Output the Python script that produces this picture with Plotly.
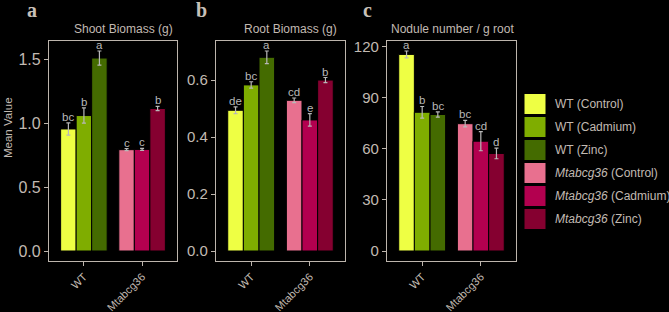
import plotly.graph_objects as go

W, H = 669, 312

groups = ["WT", "Mtabcg36"]
treatments = ["Control", "Cadmium", "Zinc"]
wt_colors = ["#EEFF44", "#7FAD00", "#446B00"]
mt_colors = ["#E8708F", "#B3004F", "#850030"]

# Panel a: Shoot Biomass (g)
shoot_wt = [0.955, 1.06, 1.51]
shoot_wt_err = [0.048, 0.06, 0.055]
shoot_mt = [0.793, 0.795, 1.115]
shoot_mt_err = [0.008, 0.008, 0.017]
shoot_wt_lbl = ["bc", "b", "a"]
shoot_mt_lbl = ["c", "c", "b"]

# Panel b: Root Biomass (g)
root_wt = [0.494, 0.583, 0.68]
root_wt_err = [0.012, 0.011, 0.022]
root_mt = [0.529, 0.46, 0.60]
root_mt_err = [0.008, 0.022, 0.009]
root_wt_lbl = ["de", "bc", "a"]
root_mt_lbl = ["cd", "e", "b"]

# Panel c: Nodule number / g root
nod_wt = [115.5, 81.5, 80.2]
nod_wt_err = [2.0, 3.4, 1.5]
nod_mt = [74.8, 64.5, 57.3]
nod_mt_err = [1.9, 5.6, 3.1]
nod_wt_lbl = ["a", "b", "bc"]
nod_mt_lbl = ["bc", "cd", "d"]

panel_titles = ["Shoot Biomass (g)", "Root Biomass (g)", "Nodule number / g root"]
panel_letters = ["a", "b", "c"]
tickvals_list = [[0, 0.5, 1.0, 1.5], [0, 0.2, 0.4, 0.6], [0, 30, 60, 90, 120]]
tickfmt_list = [".1f", ".1f", "d"]
legend_labels = ["WT (Control)", "WT (Cadmium)", "WT (Zinc)",
                 "<i>Mtabcg36</i> (Control)", "<i>Mtabcg36</i> (Cadmium)", "<i>Mtabcg36</i> (Zinc)"]

panels = [
    (shoot_wt, shoot_wt_err, shoot_mt, shoot_mt_err, shoot_wt_lbl, shoot_mt_lbl),
    (root_wt, root_wt_err, root_mt, root_mt_err, root_wt_lbl, root_mt_lbl),
    (nod_wt, nod_wt_err, nod_mt, nod_mt_err, nod_wt_lbl, nod_mt_lbl),
]

# pixel boxes of the three panels (left, right)
boxes_x = [(49, 177), (216, 345), (387, 516)]
title_cx = [123, 290, 452]
box_top, box_bot = 41, 261
tick_font_sizes = [16, 15, 15]

TXT = "#C2BAB2"
LINE = "#BDB5AD"
ERR = "#B8B8B8"
FONT = "Liberation Sans"

fig = go.Figure()
annotations = []
shapes = []

for p, (wt, wte, mt, mte, wtl, mtl) in enumerate(panels):
    xa = "x" if p == 0 else f"x{p+1}"
    ya = "y" if p == 0 else f"y{p+1}"
    for i, t in enumerate(treatments):
        fig.add_trace(go.Bar(
            x=[groups[0]], y=[wt[i]], xaxis=xa, yaxis=ya, offsetgroup=t,
            marker=dict(color=wt_colors[i], line=dict(color="black", width=1)),
            error_y=dict(type="data", array=[wte[i]], color=ERR, thickness=1.2, width=2),
            showlegend=False))
        fig.add_trace(go.Bar(
            x=[groups[1]], y=[mt[i]], xaxis=xa, yaxis=ya, offsetgroup=t,
            marker=dict(color=mt_colors[i], line=dict(color="black", width=1)),
            error_y=dict(type="data", array=[mte[i]], color=ERR, thickness=1.2, width=2),
            showlegend=False))
        for gi, (vals, errs, lbls) in enumerate([(wt, wte, wtl), (mt, mte, mtl)]):
            annotations.append(dict(
                x=gi + (i - 1) * 0.8 / 3, y=vals[i] + errs[i], xref=xa, yref=ya,
                text=lbls[i], showarrow=False, yanchor="bottom", yshift=-2,
                font=dict(family=FONT, size=11.5, color="#B8B8B8")))
    ymax = max([v + e for v, e in zip(wt + mt, wte + mte)])
    x0, x1 = boxes_x[p]
    dom_x = [x0 / W, x1 / W]
    dom_y = [1 - box_bot / H, 1 - box_top / H]
    axkey = "xaxis" if p == 0 else f"xaxis{p+1}"
    aykey = "yaxis" if p == 0 else f"yaxis{p+1}"
    fig.update_layout(**{
        axkey: dict(domain=dom_x, anchor=ya, type="category", range=[-0.6, 1.6],
                    categoryorder="array", categoryarray=groups,
                    showline=True, mirror=True, linecolor=LINE, linewidth=1.3,
                    ticks="outside", ticklen=4, tickcolor=LINE, tickangle=-45,
                    tickfont=dict(family=FONT, size=11, color=TXT),
                    showgrid=False, zeroline=False, fixedrange=True, automargin=False),
        aykey: dict(domain=dom_y, anchor=xa, range=[-0.05 * ymax, 1.05 * ymax],
                    tickvals=tickvals_list[p], tickformat=tickfmt_list[p],
                    showline=True, mirror=True, linecolor=LINE, linewidth=1.3,
                    ticks="outside", ticklen=4, tickcolor=LINE,
                    tickfont=dict(family=FONT, size=tick_font_sizes[p], color=TXT),
                    showgrid=False, zeroline=False, automargin=False, fixedrange=True),
    })
    annotations.append(dict(
        x=title_cx[p] / W, y=1 - 29 / H, xref="paper", yref="paper",
        text=panel_titles[p], showarrow=False, xanchor="center", yanchor="middle",
        font=dict(family=FONT, size=12, color=TXT)))

letter_x = [32, 201, 367]
for p in range(3):
    annotations.append(dict(
        x=letter_x[p] / W, y=1 - 10 / H, xref="paper", yref="paper",
        text=f"<b>{panel_letters[p]}</b>", showarrow=False, xanchor="center", yanchor="middle",
        font=dict(family="Liberation Serif", size=20, color="#C8C0B8")))

annotations.append(dict(
    x=8 / W, y=1 - 128 / H, xref="paper", yref="paper", text="Mean Value",
    textangle=-90, showarrow=False, xanchor="center", yanchor="middle",
    font=dict(family=FONT, size=11.5, color=TXT)))

# legend
leg_colors = wt_colors + mt_colors
for k in range(6):
    top = 93.5 + 23 * k
    shapes.append(dict(type="rect", xref="paper", yref="paper",
                       x0=524 / W, x1=546 / W, y0=1 - (top + 21) / H, y1=1 - top / H,
                       fillcolor=leg_colors[k], line=dict(color="black", width=1)))
    annotations.append(dict(
        x=553 / W, y=1 - (top + 10.5) / H, xref="paper", yref="paper",
        text=legend_labels[k], showarrow=False, xanchor="left", yanchor="middle",
        font=dict(family=FONT, size=12, color=TXT)))

fig.update_layout(
    width=W, height=H, margin=dict(l=0, r=0, t=0, b=0),
    paper_bgcolor="black", plot_bgcolor="black",
    barmode="group", bargap=0.2, bargroupgap=0,
    annotations=annotations, shapes=shapes, showlegend=False,
)

fig.write_html("out.html", config={"displayModeBar": False},
               post_script="document.body.style.margin='0';document.body.style.padding='0';"
                           "document.body.style.background='black';")
